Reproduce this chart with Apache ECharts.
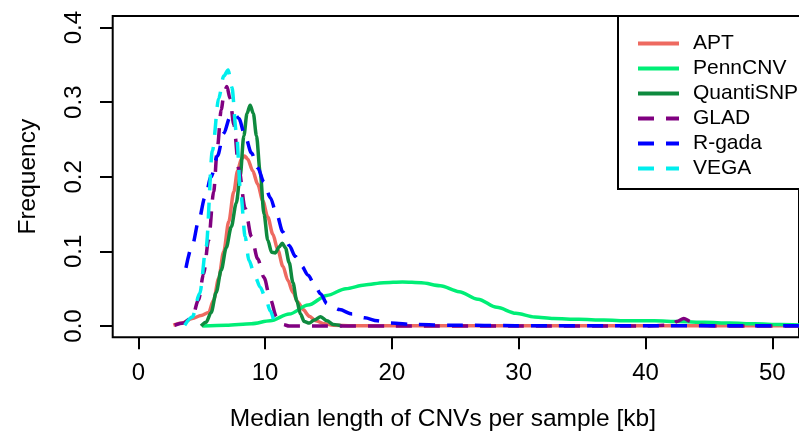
<!DOCTYPE html>
<html>
<head>
<meta charset="utf-8">
<script src="https://cdn.jsdelivr.net/npm/echarts@6/dist/echarts.min.js"></script>
<style>
html,body{margin:0;padding:0;background:#fff;}
#chart{width:799px;height:438px;}
</style>
</head>
<body>
<div id="chart"></div>
<script>
// ---- data ----
var seriesNames = ['APT', 'PennCNV', 'QuantiSNP', 'GLAD', 'R-gada', 'VEGA'];

var aptX = [2.8, 3.5, 4.3, 5.0, 5.6, 6.0, 6.4, 6.8, 7.2, 7.6, 7.9, 8.2, 8.45, 8.7, 9.1, 9.5, 9.9, 10.3, 10.7, 11.1, 11.5, 11.9, 12.3, 12.7, 13.1, 13.6, 14.1, 14.8, 15.5, 17, 20, 25, 30, 35, 40, 45, 50, 52.5];
var aptY = [0.001, 0.004, 0.010, 0.014, 0.018, 0.035, 0.064, 0.100, 0.140, 0.180, 0.208, 0.224, 0.228, 0.224, 0.208, 0.190, 0.168, 0.146, 0.123, 0.102, 0.080, 0.061, 0.045, 0.032, 0.022, 0.013, 0.007, 0.003, 0.001, 0.0005, 0.0003, 0.0003, 0.0002, 0.0002, 0.0002, 0.0002, 0.0002, 0.0002];

var pennX = [5.1, 7, 9, 10.5, 12, 13.5, 15, 16.5, 18, 19.5, 21, 22.5, 24, 25.5, 27, 28.5, 30, 31.5, 33, 35, 37, 39, 41, 43, 45, 47, 49, 51, 52.5];
var pennY = [0.000, 0.001, 0.003, 0.007, 0.016, 0.028, 0.041, 0.050, 0.055, 0.058, 0.059, 0.058, 0.054, 0.046, 0.036, 0.025, 0.017, 0.012, 0.010, 0.009, 0.008, 0.007, 0.007, 0.006, 0.005, 0.004, 0.003, 0.002, 0.0015];

var quantiX = [5.0, 5.4, 5.8, 6.2, 6.6, 7.0, 7.4, 7.8, 8.1, 8.4, 8.65, 8.9, 9.15, 9.4, 9.7, 10.0, 10.3, 10.6, 10.9, 11.2, 11.45, 11.7, 12.0, 12.3, 12.6, 12.9, 13.2, 13.6, 14.0, 14.5, 15.0, 15.5, 16.2];
var quantiY = [0.000, 0.005, 0.018, 0.045, 0.075, 0.105, 0.133, 0.165, 0.200, 0.255, 0.285, 0.296, 0.285, 0.255, 0.205, 0.150, 0.115, 0.099, 0.098, 0.106, 0.111, 0.105, 0.085, 0.058, 0.034, 0.016, 0.006, 0.004, 0.008, 0.0125, 0.007, 0.002, 0.000];

var gladX = [2.9, 3.6, 4.3, 4.8, 5.2, 5.6, 6.0, 6.3, 6.6, 6.85, 7.05, 7.3, 7.6, 8.0, 8.5, 9.0, 9.5, 10.0, 10.5, 11.0, 11.5, 12, 15, 20, 30, 40, 42.3, 42.8, 43.35, 43.9, 44.4, 46, 50, 52.5];
var gladY = [0.001, 0.004, 0.012, 0.035, 0.070, 0.115, 0.180, 0.240, 0.290, 0.315, 0.321, 0.305, 0.270, 0.210, 0.158, 0.120, 0.090, 0.065, 0.036, 0.012, 0.002, 0.0, 0.0, 0.0, 0.0, 0.0, 0.001, 0.006, 0.010, 0.006, 0.001, 0.0, 0.0, 0.0];

var rgadaX = [3.8, 4.3, 4.8, 5.3, 5.8, 6.3, 6.8, 7.3, 7.65, 8.0, 8.5, 9.0, 9.5, 10.0, 10.5, 11.0, 11.5, 12.0, 12.5, 13.0, 13.5, 14.0, 14.5, 15.0, 15.5, 16.0, 17.0, 18.0, 19.0, 20, 22, 25, 30, 40, 52.5];
var rgadaY = [0.078, 0.108, 0.140, 0.172, 0.200, 0.228, 0.258, 0.280, 0.285, 0.278, 0.255, 0.232, 0.212, 0.193, 0.172, 0.150, 0.126, 0.108, 0.093, 0.080, 0.068, 0.056, 0.043, 0.030, 0.025, 0.022, 0.016, 0.011, 0.007, 0.004, 0.002, 0.001, 0.0005, 0.0003, 0.0002];

var vegaX = [3.7, 4.3, 4.9, 5.4, 5.9, 6.4, 6.8, 7.15, 7.45, 7.8, 8.15, 8.5, 8.8, 9.3, 9.7, 10.1, 10.5, 10.9, 11.1];
var vegaY = [0.001, 0.012, 0.044, 0.106, 0.235, 0.305, 0.335, 0.343, 0.320, 0.260, 0.178, 0.120, 0.088, 0.066, 0.052, 0.039, 0.020, 0.004, 0.0];

var xTicks = [0, 10, 20, 30, 40, 50];
var yTicks = [0.0, 0.1, 0.2, 0.3, 0.4];

// ---- styling ----
var colors = ['#EE6A60', '#00EE76', '#0E8A3E', '#800080', '#0000FF', '#00EEEE'];
var dashed = [16, 12];
var FONT = 'Liberation Sans, Arial, Helvetica, sans-serif';

function pairs(xs, ys) {
  var out = [];
  for (var i = 0; i < xs.length; i++) out.push([xs[i], ys[i]]);
  return out;
}
var allData = [pairs(aptX, aptY), pairs(pennX, pennY), pairs(quantiX, quantiY),
               pairs(gladX, gladY), pairs(rgadaX, rgadaY), pairs(vegaX, vegaY)];
var isDashed = [false, false, false, true, true, true];

var series = seriesNames.map(function (n, i) {
  return {
    name: n, type: 'line', xAxisIndex: 0, yAxisIndex: 0,
    data: allData[i], showSymbol: false, symbol: 'none',
    smooth: 0.3, smoothMonotone: 'x',
    lineStyle: { color: colors[i], width: 3.5, type: isDashed[i] ? dashed : 'solid' },
    itemStyle: { color: colors[i] },
    animation: false
  };
});

var hiddenAxis = function (gi, mn, mx) {
  return { type: 'value', gridIndex: gi, min: mn, max: mx, show: false };
};

var chart = echarts.init(document.getElementById('chart'), null, { renderer: 'canvas' });
chart.setOption({
  backgroundColor: '#ffffff',
  animation: false,
  grid: [
    { left: 112.7, top: 16, right: -5.3, bottom: 100.7, show: true, borderColor: '#000', borderWidth: 2, backgroundColor: 'transparent' },
    { left: 138.3, top: 16, right: 26.7, bottom: 100.7, show: false },
    { left: 112.7, top: 27.6, right: -5.3, bottom: 112, show: false }
  ],
  xAxis: [
    { type: 'value', gridIndex: 0, min: -2.02, max: 52.5,
      axisLine: { show: false }, axisTick: { show: false }, axisLabel: { show: false }, splitLine: { show: false },
      name: 'Median length of CNVs per sample [kb]', nameLocation: 'middle', nameGap: 69,
      nameTextStyle: { fontFamily: FONT, fontSize: 24.5, color: '#000', padding: [0, 26, 0, 0] } },
    { type: 'value', gridIndex: 1, min: xTicks[0], max: xTicks[xTicks.length - 1], interval: 10,
      axisLine: { show: false },
      axisTick: { show: true, length: 12, lineStyle: { color: '#000', width: 2 } },
      axisLabel: { show: true, margin: 24, fontFamily: FONT, fontSize: 24, color: '#000' },
      splitLine: { show: false } },
    hiddenAxis(2, 0, 1)
  ],
  yAxis: [
    { type: 'value', gridIndex: 0, min: -0.01515, max: 0.41555,
      axisLine: { show: false }, axisTick: { show: false }, axisLabel: { show: false }, splitLine: { show: false },
      name: 'Frequency', nameLocation: 'middle', nameGap: 72,
      nameTextStyle: { fontFamily: FONT, fontSize: 24.5, color: '#000' } },
    hiddenAxis(1, 0, 1),
    { type: 'value', gridIndex: 2, min: yTicks[0], max: yTicks[yTicks.length - 1], interval: 0.1,
      axisLine: { show: false },
      axisTick: { show: true, length: 12.7, lineStyle: { color: '#000', width: 2 } },
      axisLabel: { show: true, rotate: 90, margin: 26, fontFamily: FONT, fontSize: 24, color: '#000',
                   formatter: function (v) { return v.toFixed(1); } },
      splitLine: { show: false } }
  ],
  legend: {
    data: seriesNames, orient: 'vertical', left: 618, top: 16,
    padding: [17, 80, 10, 18], itemGap: 4, itemWidth: 41, itemHeight: 14,
    borderColor: '#000', borderWidth: 2, backgroundColor: '#fff',
    itemStyle: { opacity: 0 },
    lineStyle: { width: 4 },
    textStyle: { fontFamily: FONT, fontSize: 21, color: '#000', lineHeight: 20, padding: [0, 0, 0, 9] }
  },
  series: series
});
</script>
</body>
</html>
